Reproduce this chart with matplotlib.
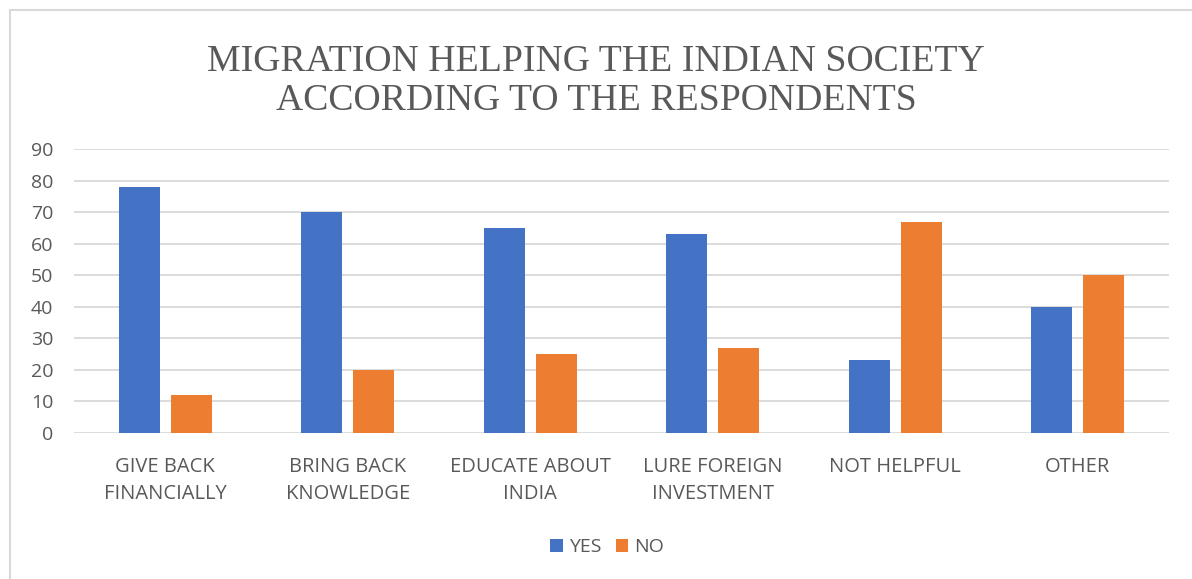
import matplotlib.pyplot as plt
from matplotlib.lines import Line2D
import numpy as np

categories = ["GIVE BACK\nFINANCIALLY", "BRING BACK\nKNOWLEDGE", "EDUCATE ABOUT\nINDIA",
              "LURE FOREIGN\nINVESTMENT", "NOT HELPFUL", "OTHER"]
yes = [78, 70, 65, 63, 23, 40]
no = [12, 20, 25, 27, 67, 50]
yticks = list(range(0, 100, 10))

blue = "#4472C4"
orange = "#ED7D31"
grey = "#595959"

fig = plt.figure(figsize=(11.92, 5.79), dpi=100)
ax = fig.add_axes([74 / 1192, 1 - 433 / 579, (1169 - 74) / 1192, (433 - 149) / 579])

x = np.arange(len(categories))
w = 0.225
off = w / 2 + 0.03
ax.bar(x - off, yes, w, color=blue, label="YES", zorder=3)
ax.bar(x + off, no, w, color=orange, label="NO", zorder=3)

ax.set_xlim(-0.5, len(categories) - 0.5)
ax.set_ylim(0, 90)
ax.set_yticks(yticks)
ax.set_xticks(x)
ax.set_xticklabels(categories, fontfamily="Open Sans", fontsize=14.5, color=grey, linespacing=1.52)
for lab in ax.get_yticklabels():
    lab.set_fontfamily("Open Sans")
    lab.set_fontsize(14)
    lab.set_color(grey)
ax.tick_params(axis="y", length=0, pad=15)
ax.tick_params(axis="x", length=0, pad=17)
ax.grid(axis="y", color="#D9D9D9", linewidth=1.3, zorder=0)
for s in ax.spines.values():
    s.set_visible(False)

fig.text(0.5, 1 - 81 / 579, "MIGRATION HELPING THE INDIAN SOCIETY\nACCORDING TO THE RESPONDENTS",
         ha="center", va="center", fontfamily="Liberation Serif", fontsize=27.2,
         color=grey, linespacing=1.18)

leg = fig.legend(loc="center", bbox_to_anchor=(607 / 1192, 1 - 547 / 579), ncol=2,
                 frameon=False, prop={"family": "Open Sans", "size": 14},
                 handlelength=0.65, handleheight=0.65, handletextpad=0.3, columnspacing=0.75)
for t in leg.get_texts():
    t.set_color(grey)

# thin frame along the top and left edges
fig.add_artist(Line2D([10 / 1192, 1], [1 - 10 / 579] * 2, transform=fig.transFigure,
                      color="#D9D9D9", linewidth=1.5))
fig.add_artist(Line2D([10 / 1192] * 2, [0, 1 - 10 / 579], transform=fig.transFigure,
                      color="#D9D9D9", linewidth=1.5))

fig.savefig("out.png", dpi=100)
